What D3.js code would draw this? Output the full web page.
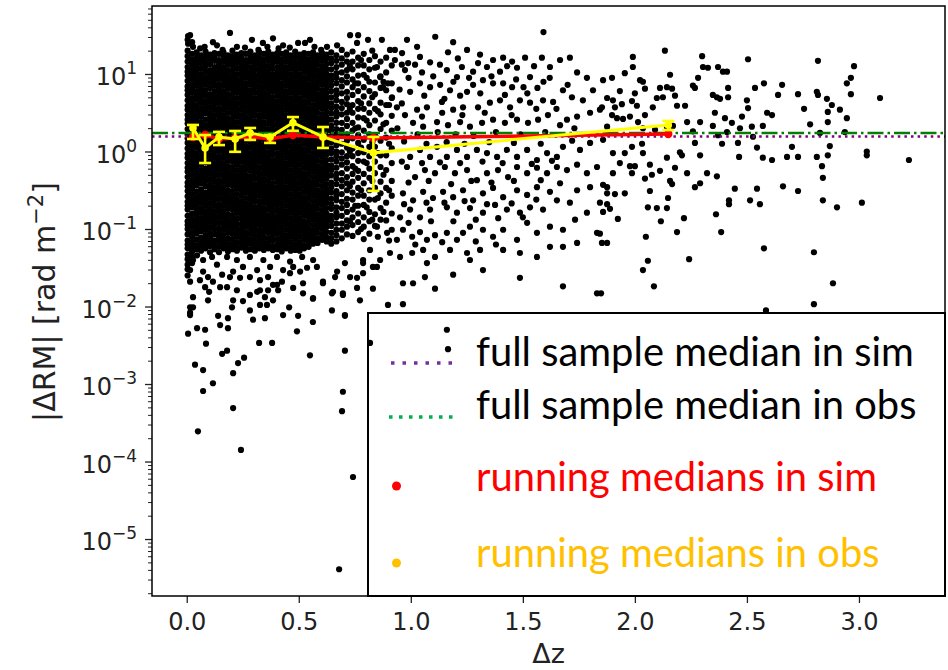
<!DOCTYPE html>
<html>
<head>
<meta charset="utf-8">
<script src="https://cdn.jsdelivr.net/npm/d3@7"></script>
<style>
body { margin: 0; background: #fff; }
svg { display: block; }
</style>
</head>
<body>
<div id="chart"></div>
<script>
// running medians (obs bins), values in rad m^-2
var binDz = [0.028, 0.082, 0.144, 0.216, 0.283, 0.372, 0.474, 0.608, 0.833, 2.149];
var simMedian = [1.54, 1.63, 1.45, 1.49, 1.54, 1.45, 1.63, 1.54, 1.49, 1.68];
var obsMedian = [2.01, 1.11, 1.54, 1.45, 1.73, 1.54, 2.35, 1.54, 0.96, 2.20];
var obsLow = [1.45, 0.71, 1.21, 0.99, 1.41, 1.29, 1.85, 1.11, 0.31, 1.89];
var obsHigh = [2.20, 1.63, 1.79, 1.84, 2.01, 1.63, 2.78, 2.07, 1.54, 2.48];
var simFullMedian = 1.56;
var obsFullMedian = 1.73;

var xTicks = [0, 0.5, 1.0, 1.5, 2.0, 2.5, 3.0];
var yMajorExp = [-5, -4, -3, -2, -1, 0, 1];
var yMinorMult = [2, 3, 4, 5, 6, 7, 8, 9];

var legendLabels = ["full sample median in sim", "full sample median in obs", "running medians in sim", "running medians in obs"];

// scatter, dense part: one string of log10|dRM| per dz column
var coreDz = [0.004,0.024,0.044,0.064,0.084,0.104,0.124,0.144,0.164,0.184,0.204,0.224,0.244,0.264,0.284,0.304,0.324,0.344,0.364,0.384,0.404,0.424,0.444,0.464,0.484,0.504,0.524,0.544,0.564,0.584,0.604,0.624];
var coreLog = [
"1.30 1.23 1.16 1.09 1.03 0.98 0.91 0.84 0.79 0.73 0.66 0.59 0.54 0.47 0.41 0.36 0.29 0.22 0.17 0.11 0.04 -0.03 -0.08 -0.15 -0.21 -0.26 -0.33 -0.40 -0.45 -0.51 -0.58 -0.65 -0.70 -0.75 -0.83 -0.90 -0.95 -1.00 -1.07 -1.15 -1.20 -1.25 -1.33 -1.39 -1.46 -1.52 -1.60",
"1.26 1.19 1.12 1.06 1.01 0.94 0.87 0.82 0.76 0.69 0.62 0.57 0.50 0.44 0.39 0.32 0.25 0.20 0.14 0.07 0.00 -0.05 -0.12 -0.18 -0.23 -0.30 -0.37 -0.42 -0.48 -0.55 -0.62 -0.67 -0.72 -0.80 -0.87 -0.92 -0.97 -1.04 -1.10 -1.17 -1.24 -1.29 -1.36",
"1.28 1.21 1.16 1.10 1.04 0.97 0.90 0.85 0.78 0.72 0.67 0.60 0.53 0.48 0.42 0.35 0.28 0.23 0.16 0.10 0.05 -0.02 -0.09 -0.14 -0.20 -0.27 -0.34 -0.39 -0.44 -0.52 -0.59 -0.64 -0.69 -0.76 -0.82 -0.89 -0.96 -1.01 -1.06 -1.14 -1.21 -1.26",
"1.24 1.19 1.14 1.07 1.00 0.93 0.88 0.81 0.75 0.70 0.63 0.56 0.51 0.45 0.38 0.31 0.26 0.19 0.13 0.08 0.01 -0.06 -0.11 -0.17 -0.24 -0.31 -0.36 -0.41 -0.49 -0.56 -0.61 -0.66 -0.73 -0.79 -0.86 -0.93 -0.98 -1.03 -1.11 -1.18 -1.23 -1.28",
"1.29 1.22 1.15 1.10 1.03 0.96 0.91 0.86 0.79 0.72 0.65 0.60 0.54 0.49 0.41 0.34 0.29 0.24 0.17 0.10 0.03 -0.02 -0.07 -0.14 -0.22 -0.27 -0.32 -0.38 -0.45 -0.53 -0.58 -0.63 -0.70 -0.77 -0.83 -0.88 -0.94 -1.01 -1.08 -1.14 -1.19 -1.25",
"1.25 1.20 1.13 1.05 1.00 0.95 0.89 0.82 0.74 0.69 0.64 0.57 0.50 0.44 0.39 0.33 0.26 0.19 0.13 0.08 0.02 -0.05 -0.12 -0.18 -0.23 -0.29 -0.36 -0.43 -0.49 -0.54 -0.60 -0.67 -0.74 -0.80 -0.85 -0.91 -0.98 -1.05 -1.11 -1.16 -1.22 -1.30",
"1.27 1.22 1.17 1.09 1.02 0.97 0.92 0.85 0.78 0.71 0.66 0.61 0.54 0.47 0.40 0.35 0.30 0.23 0.16 0.09 0.04 -0.01 -0.08 -0.15 -0.21 -0.26 -0.32 -0.39 -0.46 -0.52 -0.57 -0.63 -0.70 -0.77 -0.84 -0.89 -0.94 -1.00 -1.07 -1.15 -1.21 -1.26",
"1.26 1.18 1.12 1.07 1.01 0.94 0.87 0.81 0.76 0.70 0.63 0.56 0.50 0.45 0.39 0.32 0.25 0.19 0.14 0.08 0.01 -0.06 -0.12 -0.17 -0.23 -0.30 -0.37 -0.43 -0.48 -0.54 -0.61 -0.68 -0.74 -0.79 -0.85 -0.92 -0.99 -1.05 -1.10 -1.16 -1.23 -1.30",
"1.28 1.23 1.16 1.09 1.03 0.98 0.92 0.85 0.78 0.72 0.67 0.61 0.54 0.47 0.41 0.36 0.30 0.23 0.16 0.10 0.05 -0.01 -0.08 -0.15 -0.21 -0.26 -0.32 -0.39 -0.46 -0.52 -0.57 -0.63 -0.70 -0.77 -0.83 -0.88 -0.94 -1.01 -1.08 -1.14 -1.19 -1.25",
"1.24 1.19 1.12 1.05 0.99 0.94 0.88 0.81 0.74 0.68 0.63 0.57 0.50 0.43 0.37 0.32 0.26 0.19 0.12 0.06 0.01 -0.05 -0.12 -0.19 -0.25 -0.30 -0.36 -0.43 -0.50 -0.56 -0.61 -0.67 -0.74 -0.81 -0.87 -0.92 -0.98 -1.05 -1.12 -1.18 -1.23 -1.29",
"1.30 1.23 1.17 1.11 1.04 0.97 0.91 0.85 0.80 0.73 0.66 0.60 0.54 0.49 0.42 0.35 0.29 0.23 0.18 0.11 0.04 -0.02 -0.08 -0.13 -0.20 -0.27 -0.33 -0.39 -0.44 -0.51 -0.58 -0.64 -0.70 -0.75 -0.82 -0.89 -0.95 -1.01 -1.06 -1.13 -1.20 -1.26",
"1.25 1.20 1.14 1.07 1.00 0.93 0.87 0.82 0.76 0.69 0.62 0.56 0.51 0.45 0.38 0.31 0.25 0.20 0.14 0.07 0.00 -0.06 -0.11 -0.17 -0.24 -0.31 -0.37 -0.42 -0.48 -0.55 -0.62 -0.68 -0.73 -0.79 -0.86 -0.93 -0.99 -1.04 -1.10 -1.17 -1.24 -1.28",
"1.27 1.21 1.15 1.10 1.04 0.98 0.91 0.84 0.78 0.73 0.67 0.61 0.54 0.47 0.41 0.36 0.30 0.24 0.17 0.10 0.04 -0.01 -0.07 -0.13 -0.20 -0.27 -0.33 -0.38 -0.44 -0.50 -0.57 -0.64 -0.70 -0.75 -0.81 -0.87 -0.94 -1.01 -1.07 -1.12 -1.18 -1.24",
"1.26 1.18 1.12 1.07 1.01 0.95 0.88 0.81 0.75 0.70 0.64 0.58 0.51 0.44 0.38 0.33 0.27 0.21 0.14 0.07 0.01 -0.04 -0.10 -0.16 -0.23 -0.30 -0.36 -0.41 -0.47 -0.53 -0.60 -0.67 -0.73 -0.78 -0.84 -0.90 -0.97 -1.04 -1.10 -1.15 -1.21 -1.28",
"1.29 1.22 1.16 1.09 1.02 0.97 0.92 0.86 0.79 0.72 0.66 0.61 0.55 0.49 0.42 0.35 0.29 0.24 0.18 0.12 0.05 -0.02 -0.08 -0.13 -0.19 -0.25 -0.32 -0.39 -0.45 -0.50 -0.56 -0.62 -0.69 -0.76 -0.82 -0.87 -0.93 -0.99 -1.06 -1.13 -1.19 -1.26",
"1.24 1.19 1.13 1.06 0.99 0.94 0.89 0.83 0.76 0.69 0.63 0.58 0.52 0.46 0.39 0.32 0.26 0.21 0.15 0.09 0.02 -0.05 -0.11 -0.16 -0.22 -0.28 -0.35 -0.42 -0.48 -0.53 -0.59 -0.65 -0.72 -0.79 -0.85 -0.90 -0.96 -1.02 -1.09 -1.16 -1.22 -1.28",
"1.28 1.21 1.15 1.10 1.04 0.98 0.91 0.84 0.78 0.73 0.67 0.61 0.54 0.47 0.41 0.36 0.30 0.24 0.17 0.10 0.04 -0.01 -0.07 -0.13 -0.20 -0.27 -0.33 -0.38 -0.44 -0.50 -0.57 -0.64 -0.70 -0.75 -0.81 -0.87 -0.94 -1.01 -1.07 -1.12 -1.18 -1.25",
"1.26 1.19 1.12 1.06 1.01 0.95 0.89 0.82 0.75 0.69 0.64 0.58 0.52 0.45 0.38 0.32 0.27 0.21 0.15 0.08 0.01 -0.05 -0.10 -0.16 -0.22 -0.29 -0.36 -0.42 -0.47 -0.53 -0.59 -0.66 -0.73 -0.79 -0.84 -0.90 -0.96 -1.03 -1.10 -1.16 -1.21 -1.27",
"1.29 1.23 1.17 1.10 1.03 0.97 0.92 0.86 0.80 0.73 0.66 0.60 0.55 0.49 0.43 0.36 0.29 0.23 0.18 0.12 0.06 -0.01 -0.08 -0.14 -0.19 -0.25 -0.31 -0.38 -0.45 -0.51 -0.56 -0.62 -0.68 -0.75 -0.82 -0.88 -0.93 -0.99 -1.05 -1.12 -1.19 -1.25",
"1.25 1.20 1.14 1.07 1.00 0.94 0.89 0.83 0.77 0.70 0.63 0.57 0.52 0.46 0.40 0.33 0.26 0.20 0.15 0.09 0.03 -0.04 -0.11 -0.17 -0.22 -0.28 -0.34 -0.41 -0.48 -0.54 -0.59 -0.65 -0.71 -0.78 -0.85 -0.91 -0.96 -1.02 -1.08 -1.15 -1.22 -1.27",
"1.27 1.22 1.16 1.09 1.02 0.96 0.91 0.85 0.79 0.72 0.65 0.59 0.54 0.48 0.42 0.35 0.28 0.22 0.17 0.11 0.05 -0.02 -0.09 -0.15 -0.20 -0.26 -0.32 -0.39 -0.46 -0.52 -0.57 -0.63 -0.69 -0.76 -0.83 -0.89 -0.94 -1.00 -1.06 -1.13 -1.20 -1.26",
"1.26 1.19 1.12 1.06 1.01 0.95 0.88 0.81 0.75 0.70 0.64 0.57 0.50 0.44 0.39 0.33 0.26 0.19 0.13 0.08 0.02 -0.05 -0.12 -0.18 -0.23 -0.29 -0.36 -0.43 -0.49 -0.54 -0.60 -0.67 -0.74 -0.80 -0.85 -0.91 -0.98 -1.05 -1.11 -1.16 -1.22 -1.29",
"1.28 1.23 1.16 1.09 1.03 0.98 0.92 0.85 0.78 0.72 0.67 0.61 0.54 0.47 0.41 0.36 0.30 0.23 0.16 0.10 0.05 -0.01 -0.08 -0.15 -0.21 -0.26 -0.32 -0.39 -0.46 -0.52 -0.57 -0.63 -0.70 -0.77 -0.83 -0.88 -0.94 -1.01 -1.08 -1.14 -1.19 -1.25",
"1.24 1.18 1.13 1.07 1.00 0.93 0.87 0.82 0.76 0.69 0.62 0.56 0.51 0.45 0.38 0.31 0.25 0.20 0.14 0.07 0.00 -0.06 -0.11 -0.17 -0.24 -0.31 -0.37 -0.42 -0.48 -0.55 -0.62 -0.68 -0.73 -0.79 -0.86 -0.93 -0.99 -1.04 -1.10 -1.17 -1.24 -1.28",
"1.29 1.22 1.15 1.10 1.04 0.97 0.90 0.84 0.79 0.73 0.66 0.59 0.53 0.48 0.42 0.35 0.28 0.22 0.17 0.11 0.04 -0.03 -0.09 -0.14 -0.20 -0.27 -0.34 -0.40 -0.45 -0.51 -0.58 -0.65 -0.71 -0.76 -0.82 -0.89 -0.96 -1.02 -1.07 -1.13 -1.20 -1.27",
"1.25 1.20 1.14 1.07 1.00 0.94 0.89 0.83 0.76 0.69 0.63 0.58 0.52 0.45 0.38 0.32 0.27 0.21 0.14 0.07 0.01 -0.04 -0.10 -0.17 -0.24 -0.30 -0.35 -0.41 -0.48 -0.55 -0.61 -0.66 -0.72 -0.79 -0.86 -0.92 -0.97 -1.03 -1.10 -1.17 -1.23 -1.28",
"1.27 1.21 1.16 1.10 1.03 0.96 0.90 0.85 0.79 0.72 0.65 0.59 0.54 0.48 0.41 0.34 0.28 0.23 0.17 0.10 0.03 -0.03 -0.08 -0.14 -0.21 -0.28 -0.34 -0.39 -0.45 -0.52 -0.59 -0.65 -0.70 -0.76 -0.83 -0.90 -0.96 -1.01 -1.07 -1.14 -1.21 -1.25",
"1.26 1.19 1.13 1.07 1.01 0.94 0.87 0.82 0.76 0.70 0.63 0.56 0.50 0.45 0.39 0.32 0.25 0.19 0.14 0.08 0.01 -0.06 -0.12 -0.17 -0.23 -0.30 -0.37 -0.43 -0.48 -0.54 -0.61 -0.68 -0.74 -0.79 -0.85 -0.92 -0.99 -1.05 -1.10 -1.16 -1.23",
"1.28 1.22 1.15 1.09 1.04 0.98 0.91 0.84 0.78 0.73 0.67 0.60 0.53 0.47 0.42 0.36 0.29 0.22 0.16 0.11 0.05 -0.02 -0.09 -0.15 -0.20 -0.26 -0.33 -0.40 -0.46 -0.51 -0.57 -0.64 -0.71 -0.77 -0.82 -0.88 -0.95 -1.02 -1.08 -1.13 -1.19",
"1.24 1.19 1.12 1.05 0.99 0.94 0.88 0.81 0.74 0.68 0.63 0.57 0.50 0.43 0.37 0.32 0.26 0.19 0.12 0.06 0.01 -0.05 -0.12 -0.19 -0.25 -0.30 -0.36 -0.43 -0.50 -0.56 -0.61 -0.67 -0.74 -0.81 -0.87 -0.92 -0.98 -1.05 -1.12 -1.18",
"1.27 1.23 1.17 1.10 1.03 0.97 0.92 0.86 0.79 0.72 0.66 0.61 0.55 0.48 0.41 0.35 0.30 0.24 0.17 0.10 0.04 -0.01 -0.07 -0.14 -0.21 -0.27 -0.32 -0.38 -0.45 -0.52 -0.58 -0.63 -0.69 -0.76 -0.83 -0.89 -0.94 -1.00 -1.07 -1.14",
"1.25 1.20 1.13 1.06 1.00 0.95 0.89 0.82 0.75 0.69 0.64 0.58 0.51 0.44 0.38 0.33 0.27 0.20 0.13 0.07 0.02 -0.04 -0.11 -0.18 -0.24 -0.29 -0.35 -0.42 -0.49 -0.55 -0.60 -0.66 -0.73 -0.80 -0.86 -0.91 -0.97 -1.04 -1.11 -1.16"
];

// thinning columns right of the dense part
var transDz = [0.645, 0.668, 0.692, 0.715, 0.740, 0.765, 0.790, 0.815, 0.840, 0.865, 0.890, 0.915];
var transLog = [
"1.28 1.20 1.14 1.06 0.98 0.92 0.85 0.78 0.70 0.62 0.56 0.49 0.41 0.33 0.27 0.20 0.12 0.04 -0.02 -0.10 -0.18 -0.24 -0.31 -0.40 -0.46 -0.53 -0.61 -0.68 -0.74 -0.83 -0.89 -0.96 -1.05 -1.12 -1.19",
"1.24 1.17 1.09 1.01 0.95 0.88 0.79 0.73 0.66 0.58 0.51 0.45 0.37 0.29 0.22 0.16 0.08 0.00 -0.06 -0.13 -0.21 -0.29 -0.35 -0.42 -0.51 -0.57 -0.63 -0.72 -0.79 -0.85 -0.93 -1.01 -1.08 -1.16",
"1.31 1.20 1.12 1.02 0.92 0.84 0.75 0.64 0.56 0.48 0.37 0.28 0.20 0.10 -0.01 -0.09 -0.17 -0.28 -0.37 -0.45 -0.55 -0.65 -0.73 -0.83 -0.93 -1.01 -1.12",
"1.25 1.16 1.05 0.97 0.89 0.77 0.69 0.61 0.50 0.42 0.33 0.22 0.14 0.05 -0.06 -0.14 -0.22 -0.33 -0.41 -0.50 -0.61 -0.69 -0.78 -0.89 -0.97 -1.07",
"1.29 1.16 1.06 0.93 0.83 0.73 0.60 0.50 0.37 0.27 0.17 0.04 -0.06 -0.19 -0.29 -0.39 -0.53 -0.62 -0.75 -0.85 -0.95 -1.09",
"1.21 1.11 0.98 0.88 0.78 0.65 0.55 0.44 0.31 0.21 0.11 -0.02 -0.12 -0.25 -0.34 -0.47 -0.57 -0.70 -0.80 -0.91 -1.04",
"1.26 1.11 0.99 0.83 0.71 0.55 0.43 0.27 0.15 -0.01 -0.13 -0.29 -0.41 -0.57 -0.69 -0.85 -0.97 -1.13",
"1.18 1.06 0.90 0.78 0.62 0.50 0.34 0.22 0.06 -0.06 -0.22 -0.34 -0.50 -0.62 -0.78 -0.90 -1.06",
"1.23 1.08 0.89 0.74 0.55 0.40 0.21 0.06 -0.13 -0.28 -0.47 -0.62 -0.81 -0.96",
"1.16 0.97 0.82 0.63 0.48 0.29 0.14 -0.05 -0.20 -0.39 -0.54 -0.73 -0.88",
"1.21 1.02 0.79 0.60 0.37 0.18 -0.05 -0.24 -0.47 -0.66 -0.89",
"1.11 0.88 0.69 0.46 0.27 0.04 -0.15 -0.38 -0.57 -0.80 -1.01"
];

// single points [dz, log10|dRM|]
var topEdge = [[0.015,1.50],[0.024,1.41],[0.028,1.35],[0.193,1.53],[0.117,1.41],[0.135,1.37],[0.224,1.35],[0.291,1.44],[0.340,1.40],[0.385,1.46],[0.430,1.37],[0.497,1.40],[0.528,1.40],[0.550,1.44],[0.626,1.35],[0.671,1.37],[0.729,1.50],[0.765,1.50],[0.809,1.44],[0.871,1.44],[0.983,1.44],[0.760,1.40],[0.929,1.31],[0.988,1.14],[0.06,1.33],[0.08,1.35],[0.16,1.31],[0.26,1.34],[0.32,1.31],[0.36,1.35],[0.41,1.33],[0.46,1.34],[0.57,1.35],[0.60,1.31],[0.006,1.49],[0.006,1.39],[0.004,1.44]];

var transFill = [[0.728,1.10],[0.728,0.55],[0.728,0.00],[0.728,-0.45],[0.728,-0.90],[0.752,0.88],[0.752,0.30],[0.752,-0.22],[0.752,-0.70],[0.778,1.18],[0.778,0.62],[0.778,0.05],[0.778,-0.50],[0.778,-1.00],[0.803,0.95],[0.803,0.40],[0.803,-0.15],[0.803,-0.72],[0.828,1.30],[0.828,0.70],[0.828,0.12],[0.828,-0.38],[0.828,-0.88],[0.853,0.52],[0.853,-0.02],[0.853,-0.60],[0.853,-1.10],[0.878,0.90],[0.878,0.35],[0.878,-0.30],[0.878,-0.78],[0.903,0.60],[0.903,0.10],[0.903,-0.50],[0.903,-1.15]];

var midCloud = [[1.592,1.54],[1.109,1.48],[1.189,1.41],[1.251,1.31],[1.166,1.28],[1.309,1.25],[1.367,1.18],[1.412,1.21],[1.452,1.16],[1.510,1.21],[1.585,1.21],[1.666,1.18],[1.710,1.21],[1.621,1.09],[1.742,1.02],[1.786,0.95],[1.858,0.92],[1.532,0.96],[1.474,1.08],[1.398,1.03],[1.340,1.09],[1.278,1.03],[1.228,1.09],[1.206,0.96],[1.161,1.05],[1.086,1.15],[1.041,1.22],[1.019,1.12],[0.974,1.05],[0.929,1.18],[0.907,1.31],[1.028,1.35],[0.961,1.27],
[1.592,0.90],[1.565,0.82],[1.503,0.83],[1.452,0.83],[1.412,0.88],[1.367,0.88],[1.322,0.92],[1.278,0.86],[1.251,0.77],[1.175,0.79],[1.131,0.86],[1.086,0.83],[1.041,0.88],[0.997,0.77],[1.679,0.79],[1.719,0.70],[1.768,0.66],[1.813,0.79],[1.635,0.64],[1.590,0.66],[1.532,0.63],[1.487,0.66],[1.443,0.57],[1.398,0.66],[1.353,0.63],[1.300,0.57],[1.233,0.57],[1.189,0.54],[1.139,0.64],[1.072,0.57],[1.028,0.54],
[1.844,0.54],[1.800,0.50],[1.742,0.45],[1.697,0.41],[1.666,0.34],[1.612,0.47],[1.568,0.41],[1.523,0.37],[1.474,0.41],[1.420,0.37],[1.367,0.41],[1.318,0.37],[1.264,0.32],[1.220,0.38],[1.166,0.34],[1.117,0.38],[1.055,0.32],[1.010,0.37],[0.974,0.47],[0.938,0.57],[0.916,0.70],[0.876,0.83],[0.863,0.96],[0.849,1.09],[0.898,0.88],
[1.858,0.15],[1.800,0.11],[1.755,0.02],[1.679,0.06],[1.652,-0.07],[1.608,-0.02],[1.563,-0.11],[1.519,0.02],[1.474,-0.07],[1.429,0.02],[1.385,-0.07],[1.340,-0.02],[1.295,0.02],[1.251,-0.07],[1.206,0.02],[1.161,-0.07],[1.117,0.06],[1.086,-0.07],[1.041,0.02],[0.997,-0.07],
[1.831,-0.20],[1.786,-0.28],[1.742,-0.17],[1.697,-0.24],[1.652,-0.20],[1.608,-0.28],[1.563,-0.21],[1.519,-0.28],[1.474,-0.20],[1.434,-0.33],[1.389,-0.24],[1.340,-0.28],[1.295,-0.37],[1.251,-0.24],[1.197,-0.28],[1.152,-0.20],[1.108,-0.28],[1.063,-0.24],[1.019,-0.33],[0.983,-0.20],
[1.800,-0.46],[1.742,-0.50],[1.666,-0.41],[1.621,-0.52],[1.563,-0.46],[1.519,-0.56],[1.474,-0.50],[1.412,-0.59],[1.367,-0.47],[1.322,-0.54],[1.278,-0.63],[1.233,-0.50],[1.189,-0.59],[1.144,-0.52],[1.099,-0.60],[1.055,-0.52],[1.010,-0.63],[0.965,-0.54],[1.876,-0.46],
[1.710,-0.66],[1.652,-0.63],[1.590,-0.75],[1.532,-0.72],[1.487,-0.79],[1.429,-0.75],[1.376,-0.69],[1.322,-0.79],[1.264,-0.73],[1.206,-0.79],[1.161,-0.72],[1.086,-0.75],[1.041,-0.85],[0.997,-0.75],[0.952,-0.85],[1.786,-0.79],[1.844,-0.66],
[1.733,-0.88],[1.679,-1.01],[1.621,-0.97],[1.563,-1.05],[1.519,-0.92],[1.474,-1.14],[1.412,-1.01],[1.367,-1.10],[1.322,-1.01],[1.264,-0.97],[1.233,-1.05],[1.206,-1.14],[1.161,-1.05],[1.108,-1.08],[1.072,-1.14],[1.041,-1.04],[1.006,-1.10],[0.965,-1.01],[0.938,-1.14],[0.894,-1.05],[0.849,-0.97],[1.831,-1.05],[1.876,-1.18],
[1.742,-1.18],[1.679,-1.23],[1.621,-1.23],[1.563,-1.36],[1.487,-1.31],[1.412,-1.27],[1.309,-1.27],[1.251,-1.31],[1.175,-1.27],[1.108,-1.36],[1.055,-1.27],[1.006,-1.31],[0.952,-1.36],[0.907,-1.31],[0.863,-1.40],[0.831,-1.49],[0.787,-1.44],
[1.264,-1.40],[1.487,-1.63],[1.679,-1.74],[1.831,-1.83],[1.322,-1.53],[1.189,-1.59],[1.072,-1.44],[1.063,-1.62],[1.010,-1.70],[0.965,-1.70],[1.108,-1.77],[0.831,-1.77],[0.773,-1.92],[0.898,-1.98],[0.965,-1.97],[0.706,-2.11],[0.697,-1.83],[0.729,-1.62],[0.787,-1.57]];

var midFill = [[0.96,1.12],[1.05,1.02],[1.13,1.12],[1.21,1.20],[1.30,1.14],[1.43,1.10],[1.55,1.10],[0.99,0.95],[1.10,0.97],[1.19,0.90],[1.26,0.95],[1.36,0.97],[1.47,0.93],[1.62,0.95],[0.95,0.80],[1.06,0.72],[1.15,0.68],[1.22,0.72],[1.31,0.75],[1.42,0.73],[1.52,0.75],[1.70,0.86],[0.96,0.62],[1.05,0.45],[1.14,0.50],[1.23,0.47],[1.33,0.50],[1.45,0.47],[1.56,0.55],[1.65,0.55],[0.94,0.30],[1.03,0.22],[1.12,0.25],[1.20,0.22],[1.28,0.20],[1.38,0.25],[1.49,0.22],[1.60,0.25],[1.73,0.30],[0.97,0.13],[1.07,0.10],[1.16,0.12],[1.24,0.10],[1.35,0.12],[1.46,0.11],[1.58,0.10],[1.72,0.14],[0.96,-0.13],[1.05,-0.15],[1.13,-0.14],[1.22,-0.15],[1.32,-0.13],[1.41,-0.15],[1.54,-0.16],[1.63,-0.12],[0.99,-0.40],[1.08,-0.38],[1.18,-0.42],[1.27,-0.38],[1.36,-0.40],[1.46,-0.38],[1.58,-0.37],[0.97,-0.68],[1.07,-0.66],[1.15,-0.66],[1.24,-0.64],[1.34,-0.68],[1.45,-0.67],[1.56,-0.62],[0.99,-0.92],[1.09,-0.90],[1.19,-0.90],[1.29,-0.88],[1.39,-0.86],[1.50,-0.85],[1.02,-1.20],[1.14,-1.17],[1.29,-1.16],[1.38,-1.20]];

var farCloud = [[2.134,1.30],[1.991,1.22],[1.991,1.09],[1.955,1.01],[1.898,0.95],[2.023,0.92],[2.036,0.90],[1.933,0.78],[2.000,0.75],[2.045,0.81],[2.112,0.82],[2.143,0.83],[2.166,0.81],[2.157,0.99],[2.125,0.70],[2.098,0.69],[2.179,0.72],[1.876,0.69],[1.902,0.66],[1.911,0.57],[1.942,0.61],[1.987,0.65],[2.009,0.59],[2.080,0.57],[2.188,0.59],[2.224,0.59],[1.853,0.57],[1.898,0.47],[1.920,0.43],[1.947,0.42],[1.978,0.45],[2.014,0.38],[2.045,0.47],[1.876,0.32],[2.036,0.30],[2.090,0.28],[2.143,0.32],[2.170,0.33],[2.233,0.38],[2.259,0.26],[2.291,0.38],[2.357,0.50],[2.348,0.33],[2.371,0.21],[2.402,0.43],[2.411,0.25],[2.433,0.37],[2.469,0.30],[2.478,0.45],[2.500,0.66],[2.505,0.56],[2.522,0.32],[2.527,0.19],[2.571,0.33],[2.576,0.88],[2.536,0.82],[2.505,1.19],[2.657,0.86],[2.639,0.73],[2.590,0.50],[2.612,0.47],[2.300,1.23],[2.304,1.09],[2.326,1.08],[2.371,1.09],[2.393,1.03],[2.411,1.03],[2.282,0.95],[2.259,0.85],[2.268,0.82],[2.348,0.73],[2.366,0.70],[2.380,0.68],[2.416,0.82],[2.416,0.70],[2.817,1.17],[2.728,0.74],[2.812,0.77],[2.817,0.73],[2.857,0.68],[2.879,0.60],[2.915,0.54],[2.861,0.51],[2.861,0.38],[2.946,0.43],[2.978,1.10],[2.964,0.95],[2.946,0.88],[2.964,0.74],[3.094,0.69],[2.755,0.55],[2.782,0.35],[2.826,0.24],[2.937,0.25],
[3.223,-0.11],[3.035,0.00],[3.035,-0.05],[2.870,0.07],[2.861,-0.05],[2.835,-0.19],[2.839,-0.34],[2.812,-0.07],[2.728,-0.07],[2.701,0.06],[2.679,-0.07],[2.612,-0.11],[2.571,-0.08],[2.545,0.05],[2.465,-0.07],[2.460,0.11],[2.389,0.10],[2.291,-0.05],[2.268,0.11],[1.987,0.06],[1.955,-0.02],[1.902,-0.02],[1.933,-0.15],[1.978,-0.19],[2.000,-0.19],[2.032,0.10],[2.036,-0.02],[2.067,-0.17],[2.076,-0.30],[2.112,-0.25],[2.143,-0.08],[2.179,-0.21],[2.201,-0.01],[2.210,-0.05],[2.157,-0.38],[2.166,-0.42],[2.233,-0.28],[2.322,-0.28],[2.366,-0.32],[2.045,-0.35],[1.987,-0.28],[1.902,-0.28],[1.858,-0.43],[1.876,-0.54],[1.911,-0.55],[1.955,-0.54],[2.067,-0.51],[2.291,-0.41],[2.268,-0.46],[2.148,-0.60],[2.446,-0.48],[2.545,-0.48],[2.514,-0.63],[2.558,-0.68],[2.420,-0.63],[2.420,-0.68],[2.661,-0.45],[2.728,-0.51],[2.839,-0.63],[2.902,-0.72],[3.013,-0.66],
[1.876,-0.68],[1.858,-0.78],[1.889,-0.74],[1.924,-0.87],[2.058,-0.72],[2.098,-0.73],[2.143,-0.73],[2.116,-0.90],[2.188,-1.04],[2.219,-0.86],[2.362,-0.81],[2.385,-1.04],[2.049,-1.10],[1.844,-1.06],[1.853,-1.18],[2.242,-1.39],[2.058,-1.41],[2.036,-1.53],[2.085,-1.74],[2.576,-1.25],[2.799,-1.30],[2.884,-1.70],[2.799,-1.97],[2.585,-2.05],[1.849,-1.83]];

var lowTail = [[0.028,-1.40],[0.024,-1.44],[0.073,-1.40],[0.113,-1.36],[0.095,-1.62],[0.158,-1.59],[0.193,-1.62],[0.238,-1.63],[0.282,-1.62],[0.327,-1.66],[0.363,-1.62],[0.385,-1.72],[0.425,-1.68],[0.461,-1.57],[0.506,-1.55],[0.537,-1.50],[0.581,-1.49],[0.608,-1.68],[0.662,-1.62],[0.671,-1.55],[0.706,-1.44],[0.760,-1.63],[0.787,-1.40],[0.818,-1.27],[0.849,-1.49],[0.015,-1.68],[0.059,-1.66],[0.117,-1.68],[0.149,-1.75],[0.180,-1.75],[0.224,-1.79],[0.282,-1.85],[0.314,-1.81],[0.349,-1.88],[0.363,-1.79],[0.403,-1.72],[0.475,-1.76],[0.519,-1.83],[0.648,-1.83],[0.564,-1.89],[0.028,-2.01],[0.015,-2.08],[0.207,-1.92],[0.358,-1.98],
[0.046,-1.34],[0.180,-1.36],[0.224,-1.40],[0.282,-1.36],[0.342,-1.40],[0.403,-1.36],[0.461,-1.42],[0.515,-1.36],[0.564,-1.40],[0.135,-1.46],[0.251,-1.49],[0.372,-1.49],[0.475,-1.49],[0.015,-1.53],[0.207,-1.55],[0.314,-1.53],[0.430,-1.53],[0.073,-1.55],
[0.015,-2.11],[0.046,-2.28],[0.006,-2.35],[0.082,-2.30],[0.086,-2.48],[0.140,-2.12],[0.149,-2.24],[0.184,-2.15],[0.184,-2.28],[0.158,-2.61],[0.180,-2.57],[0.037,-2.75],[0.073,-2.82],[0.117,-2.99],[0.073,-3.09],[0.207,-2.86],[0.229,-2.73],[0.256,-2.66],[0.207,-3.31],[0.050,-3.61],[0.242,-3.85],[0.323,-2.47],[0.381,-2.47],[0.296,-2.17],[0.349,-2.15],[0.430,-2.11],[0.497,-2.12],[0.492,-2.32],[0.563,-2.20],[0.550,-2.63],[0.648,-2.05],[0.706,-2.12],[0.706,-2.57],[0.697,-3.10],[0.693,-3.35],[0.742,-4.20],[0.680,-5.39],[0.818,-2.47],[0.760,-1.76],[0.563,-1.90],[0.457,-2.01],[0.408,-1.79],[0.519,-1.70],[0.385,-1.92],[0.327,-1.98],[0.327,-1.79],[0.282,-2.05],[0.251,-1.93],[0.202,-2.01],[0.015,-2.01],[0.028,-1.88],[0.100,-1.81],[0.095,-1.92],[0.082,-1.75],[0.608,-1.70],[0.653,-1.81],[0.697,-1.85],
[1.161,-2.30],[1.166,-2.55]];

var width = 948, height = 670;
var pLeft = 152, pRight = 945, pTop = 6, pBottom = 596;

var svg = d3.select("#chart")
    .append("svg")
    .attr("width", width)
    .attr("height", height);

var x = d3.scaleLinear().domain([-0.155, 3.384]).range([pLeft, pRight]);
var y = d3.scaleLog().domain([Math.pow(10, -5.735), Math.pow(10, 1.877)]).range([pBottom, pTop]);

// collect scatter points
var points = [];
coreDz.forEach(function(dz, i) {
    coreLog[i].split(" ").forEach(function(v) { points.push([dz, +v]); });
});
transDz.forEach(function(dz, i) {
    transLog[i].split(" ").forEach(function(v) { points.push([dz, +v]); });
});
topEdge.concat(transFill, midCloud, midFill, farCloud, lowTail).forEach(function(p) { points.push(p); });

svg.append("clipPath").attr("id", "plotclip")
    .append("rect")
    .attr("x", pLeft).attr("y", pTop)
    .attr("width", pRight - pLeft).attr("height", pBottom - pTop);

var plot = svg.append("g").attr("clip-path", "url(#plotclip)");

plot.selectAll("circle.pt")
    .data(points)
    .enter()
    .append("circle")
    .attr("class", "pt")
    .attr("cx", function(d) { return x(d[0]); })
    .attr("cy", function(d) { return y(Math.pow(10, d[1])); })
    .attr("r", 3.1)
    .attr("fill", "#000");

// full sample medians
plot.append("line")
    .attr("x1", pLeft).attr("x2", pRight)
    .attr("y1", y(simFullMedian)).attr("y2", y(simFullMedian))
    .attr("stroke", "#800080")
    .attr("stroke-width", 2.5)
    .attr("stroke-dasharray", "2.5,4.1");

plot.append("line")
    .attr("x1", pLeft).attr("x2", pRight)
    .attr("y1", y(obsFullMedian)).attr("y2", y(obsFullMedian))
    .attr("stroke", "#008000")
    .attr("stroke-width", 2.5)
    .attr("stroke-dasharray", "16,4,2.5,4");

// running medians in sim
var medLine = d3.line()
    .x(function(d, i) { return x(binDz[i]); })
    .y(function(d) { return y(d); });

plot.append("path")
    .attr("d", medLine(simMedian))
    .attr("fill", "none")
    .attr("stroke", "#ff0000")
    .attr("stroke-width", 3.5);

plot.selectAll("circle.sim")
    .data(simMedian)
    .enter()
    .append("circle")
    .attr("class", "sim")
    .attr("cx", function(d, i) { return x(binDz[i]); })
    .attr("cy", function(d) { return y(d); })
    .attr("r", 4.2)
    .attr("fill", "#ff0000");

// running medians in obs with error bars
var bars = plot.selectAll("g.err")
    .data(obsMedian)
    .enter()
    .append("g")
    .attr("class", "err");

bars.append("line")
    .attr("x1", function(d, i) { return x(binDz[i]); })
    .attr("x2", function(d, i) { return x(binDz[i]); })
    .attr("y1", function(d, i) { return y(obsLow[i]); })
    .attr("y2", function(d, i) { return y(obsHigh[i]); })
    .attr("stroke", "#ffff00").attr("stroke-width", 2.6);

bars.append("line")
    .attr("x1", function(d, i) { return x(binDz[i]) - 6; })
    .attr("x2", function(d, i) { return x(binDz[i]) + 6; })
    .attr("y1", function(d, i) { return y(obsLow[i]); })
    .attr("y2", function(d, i) { return y(obsLow[i]); })
    .attr("stroke", "#ffff00").attr("stroke-width", 2.6);

bars.append("line")
    .attr("x1", function(d, i) { return x(binDz[i]) - 6; })
    .attr("x2", function(d, i) { return x(binDz[i]) + 6; })
    .attr("y1", function(d, i) { return y(obsHigh[i]); })
    .attr("y2", function(d, i) { return y(obsHigh[i]); })
    .attr("stroke", "#ffff00").attr("stroke-width", 2.6);

plot.append("path")
    .attr("d", medLine(obsMedian))
    .attr("fill", "none")
    .attr("stroke", "#ffff00")
    .attr("stroke-width", 3);

plot.selectAll("circle.obs")
    .data(obsMedian)
    .enter()
    .append("circle")
    .attr("class", "obs")
    .attr("cx", function(d, i) { return x(binDz[i]); })
    .attr("cy", function(d) { return y(d); })
    .attr("r", 3.8)
    .attr("fill", "#ffff00");

// axes
var tickColor = "#222";
var gx = svg.append("g")
    .attr("transform", "translate(0," + pBottom + ")")
    .call(d3.axisBottom(x).tickValues(xTicks).tickFormat(d3.format(".1f")).tickSize(7).tickPadding(10));
gx.select(".domain").remove();
gx.selectAll("line").attr("stroke", tickColor).attr("stroke-width", 1.3);
gx.selectAll("text").attr("font-family", "DejaVu Sans").attr("font-size", 24).attr("fill", tickColor);

var minorVals = [];
yMajorExp.concat([-6]).forEach(function(e) {
    yMinorMult.forEach(function(m) {
        var v = m * Math.pow(10, e);
        if (v >= y.domain()[0] && v <= y.domain()[1]) minorVals.push(v);
    });
});

var gyMinor = svg.append("g")
    .attr("transform", "translate(" + pLeft + ",0)")
    .call(d3.axisLeft(y).tickValues(minorVals).tickSize(4).tickFormat(""));
gyMinor.select(".domain").remove();
gyMinor.selectAll("line").attr("stroke", tickColor).attr("stroke-width", 1);

var gy = svg.append("g")
    .attr("transform", "translate(" + pLeft + ",0)")
    .call(d3.axisLeft(y).tickValues(yMajorExp.map(function(e) { return Math.pow(10, e); })).tickSize(7).tickPadding(8).tickFormat(""));
gy.select(".domain").remove();
gy.selectAll("line").attr("stroke", tickColor).attr("stroke-width", 1.3);
gy.selectAll(".tick text").each(function(d, i) {
    var t = d3.select(this)
        .attr("font-family", "DejaVu Sans")
        .attr("font-size", 24)
        .attr("fill", tickColor)
        .attr("dy", "0.45em");
    var e = yMajorExp[i];
    t.text("10");
    t.append("tspan")
        .attr("dy", -11)
        .attr("font-size", 17)
        .text(e < 0 ? "\u2212" + (-e) : String(e));
});

// frame
svg.append("rect")
    .attr("x", pLeft).attr("y", pTop)
    .attr("width", pRight - pLeft).attr("height", pBottom - pTop)
    .attr("fill", "none")
    .attr("stroke", "#000")
    .attr("stroke-width", 1.5);

// axis labels
svg.append("text")
    .attr("x", (pLeft + pRight) / 2)
    .attr("y", 663)
    .attr("text-anchor", "middle")
    .attr("font-family", "DejaVu Sans")
    .attr("font-size", 27)
    .attr("fill", tickColor)
    .text("\u0394z");

var ylab = svg.append("text")
    .attr("transform", "translate(55,302) rotate(-90)")
    .attr("text-anchor", "middle")
    .attr("font-family", "DejaVu Sans")
    .attr("font-size", 30)
    .attr("fill", tickColor);
ylab.append("tspan").text("|\u0394RM| [rad m");
ylab.append("tspan").attr("dy", -12).attr("font-size", 21).text("\u22122");
ylab.append("tspan").attr("dy", 12).text("]");

// legend
var legend = svg.append("g").attr("class", "legend");
legend.append("rect")
    .attr("x", 368).attr("y", 313)
    .attr("width", 577).attr("height", 283)
    .attr("fill", "none")
    .attr("stroke", "#000")
    .attr("stroke-width", 2);

var probe = legend.append("text").attr("font-family", "Lato").attr("font-size", 30).text(legendLabels[0]);
var legendSize = 30 * 438 / probe.node().getComputedTextLength();
probe.remove();

var legendColors = ["#000", "#000", "#ff0000", "#ffc000"];
var legendY = [366, 419, 491, 567];
legendLabels.forEach(function(lab, i) {
    legend.append("text")
        .attr("x", 476)
        .attr("y", legendY[i])
        .attr("font-family", "Lato")
        .attr("font-size", legendSize)
        .attr("fill", legendColors[i])
        .text(lab);
});

legend.append("line")
    .attr("x1", 391).attr("x2", 452).attr("y1", 363).attr("y2", 363)
    .attr("stroke", "#7030a0").attr("stroke-width", 3.5)
    .attr("stroke-dasharray", "3.5,8");
legend.append("line")
    .attr("x1", 389).attr("x2", 455).attr("y1", 417).attr("y2", 417)
    .attr("stroke", "#00b050").attr("stroke-width", 3.5)
    .attr("stroke-dasharray", "3.5,6.5");
legend.append("circle").attr("cx", 396.5).attr("cy", 486).attr("r", 4.5).attr("fill", "#ff0000");
legend.append("circle").attr("cx", 396.5).attr("cy", 563).attr("r", 4.5).attr("fill", "#ffc000");
</script>
</body>
</html>
